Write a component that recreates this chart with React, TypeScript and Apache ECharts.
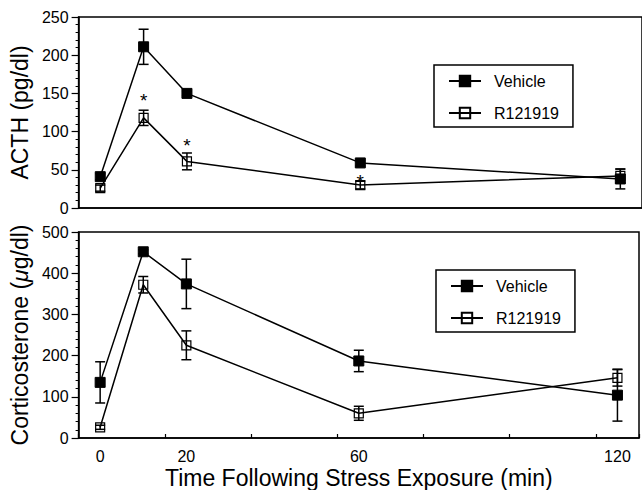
import React, { useEffect, useRef } from 'react';
import * as echarts from 'echarts';

const TIMES = [0, 10, 20, 60, 120];
const X_TICK_LABELS = [0, 20, 60, 120];
const SERIES_NAMES = ['Vehicle', 'R121919'];

const ACTH_VEHICLE = [41, 211, 150, 59, 38];
const ACTH_VEHICLE_SEM = [4, 23, 3, 4, 13];
const ACTH_R = [26, 118, 61, 30, 42];
const ACTH_R_SEM = [4, 10, 11, 5, 9];
const ACTH_SIGNIFICANT = [false, true, true, true, false];

const CORT_VEHICLE = [135, 452, 374, 187, 104];
const CORT_VEHICLE_SEM = [50, 5, 60, 26, 63];
const CORT_R = [26, 372, 225, 60, 146];
const CORT_R_SEM = [5, 20, 35, 17, 20];

const FONT = '"Liberation Sans", Arial, Helvetica, sans-serif';

function errorData(values: number[], sems: number[]) {
  return TIMES.map((t, i) => [t, values[i] - sems[i], values[i] + sems[i]]);
}

function errorSeries(values: number[], sems: number[], gridIdx: number, xIdx: number) {
  return {
    type: 'custom',
    xAxisIndex: xIdx,
    yAxisIndex: gridIdx,
    z: 2,
    silent: true,
    encode: { x: 0, y: [1, 2] },
    data: errorData(values, sems),
    renderItem: (params: any, api: any) => {
      const x = api.value(0);
      const lo = api.coord([x, api.value(1)]);
      const hi = api.coord([x, api.value(2)]);
      const w = 5;
      const style = { stroke: '#000', lineWidth: 1.5, fill: 'none' };
      return {
        type: 'group',
        children: [
          { type: 'line', shape: { x1: lo[0], y1: lo[1], x2: hi[0], y2: hi[1] }, style },
          { type: 'line', shape: { x1: lo[0] - w, y1: lo[1], x2: lo[0] + w, y2: lo[1] }, style },
          { type: 'line', shape: { x1: hi[0] - w, y1: hi[1], x2: hi[0] + w, y2: hi[1] }, style },
        ],
      };
    },
  };
}

function lineSeries(name: string, values: number[], filled: boolean, gridIdx: number, xIdx: number, stars?: boolean[]) {
  const starOffsets = [0, -17, -16, -4, 0];
  return {
    type: 'line',
    name,
    xAxisIndex: xIdx,
    yAxisIndex: gridIdx,
    z: 3,
    symbol: 'rect',
    symbolSize: filled ? 10 : 9,
    showAllSymbol: true,
    lineStyle: { color: '#000', width: 1.5 },
    itemStyle: filled
      ? { color: '#000', borderColor: '#000', borderWidth: 1 }
      : { color: 'rgba(255,255,255,0)', borderColor: '#000', borderWidth: 1.2 },
    data: TIMES.map((t, i) => {
      const item: any = { value: [t, values[i]] };
      if (stars && stars[i]) {
        item.label = {
          show: true,
          formatter: '*',
          position: 'inside',
          offset: [0, starOffsets[i]],
          fontSize: 19,
          color: '#000',
          fontFamily: FONT,
        };
      }
      return item;
    }),
  };
}

function yAxis(gridIndex: number, max: number, interval: number, name: string, extra: any = {}) {
  return {
    type: 'value',
    gridIndex,
    min: 0,
    max,
    interval,
    name,
    nameLocation: 'middle',
    nameGap: 43,
    nameTextStyle: { fontSize: 23, color: '#000', fontFamily: FONT, ...(extra.nameTextStyle || {}) },
    axisLine: { show: true, onZero: false, lineStyle: { color: '#000', width: 1.5 } },
    axisTick: { show: true, length: 7, lineStyle: { color: '#000', width: 1.2 } },
    minorTick: { show: true, splitNumber: 5, length: 3, lineStyle: { color: '#000', width: 1 } },
    axisLabel: { fontSize: 16, color: '#000', margin: 10, fontFamily: FONT },
    splitLine: { show: false },
    minorSplitLine: { show: false },
  };
}

function legend(left: number, top: number) {
  return {
    data: SERIES_NAMES,
    orient: 'vertical',
    left,
    top,
    selectedMode: false,
    borderColor: '#000',
    borderWidth: 1.5,
    padding: [8, 14, 6, 14],
    itemGap: 16,
    itemWidth: 32,
    itemHeight: 13,
    textStyle: { fontSize: 16, color: '#000', fontFamily: FONT, padding: [0, 0, 0, 8] },
  };
}

export default function App() {
  const ref = useRef<HTMLDivElement>(null);

  useEffect(() => {
    if (!ref.current) return;
    const chart = echarts.init(ref.current, null, { renderer: 'svg' });
    const option: any = {
      animation: false,
      backgroundColor: '#fff',
      textStyle: { fontFamily: FONT },
      grid: [
        { left: 75, top: 17, width: 568, height: 191, show: true, borderColor: '#000', borderWidth: 1.5, backgroundColor: 'transparent' },
        { left: 75, top: 232, width: 568, height: 210, show: true, borderColor: '#000', borderWidth: 1.5, backgroundColor: 'transparent' },
      ],
      xAxis: [
        {
          type: 'value', gridIndex: 0, min: -5, max: 125, interval: 20,
          axisLine: { show: true, onZero: false, lineStyle: { color: '#000', width: 1.5 } },
          axisTick: { show: false }, axisLabel: { show: false }, splitLine: { show: false },
        },
        {
          type: 'value', gridIndex: 1, min: -5, max: 125, interval: 20, position: 'bottom',
          axisLine: { show: true, onZero: false, lineStyle: { color: '#000', width: 1.5 } },
          axisTick: { show: true, inside: true, length: 4, lineStyle: { color: '#000', width: 1.2 } },
          axisLabel: { show: false }, splitLine: { show: false },
        },
        {
          type: 'value', gridIndex: 1, min: -5, max: 125, interval: 5, position: 'bottom',
          axisLine: { show: false, onZero: false }, axisTick: { show: false }, splitLine: { show: false },
          axisLabel: {
            show: true, fontSize: 16, color: '#000', margin: 10, fontFamily: FONT,
            formatter: (v: number) => (X_TICK_LABELS.includes(v) ? String(v) : ''),
          },
          name: 'Time Following Stress Exposure (min)',
          nameLocation: 'middle',
          nameGap: 28,
          nameTextStyle: { fontSize: 23, color: '#000', fontFamily: FONT },
        },
      ],
      yAxis: [
        yAxis(0, 250, 50, 'ACTH (pg/dl)'),
        yAxis(1, 500, 100, 'Corticosterone ({it|μ}g/dl)', {
          nameTextStyle: { rich: { it: { fontStyle: 'italic', fontSize: 23, color: '#000', fontFamily: FONT } } },
        }),
      ],
      legend: [legend(434, 65), legend(436, 270)],
      series: [
        errorSeries(ACTH_VEHICLE, ACTH_VEHICLE_SEM, 0, 0),
        errorSeries(ACTH_R, ACTH_R_SEM, 0, 0),
        lineSeries(SERIES_NAMES[0], ACTH_VEHICLE, true, 0, 0),
        lineSeries(SERIES_NAMES[1], ACTH_R, false, 0, 0, ACTH_SIGNIFICANT),
        errorSeries(CORT_VEHICLE, CORT_VEHICLE_SEM, 1, 1),
        errorSeries(CORT_R, CORT_R_SEM, 1, 1),
        lineSeries(SERIES_NAMES[0], CORT_VEHICLE, true, 1, 1),
        lineSeries(SERIES_NAMES[1], CORT_R, false, 1, 1),
      ],
    };
    chart.setOption(option);
    return () => chart.dispose();
  }, []);

  return (
    <div
      ref={ref}
      style={{ position: 'fixed', left: 0, top: 0, width: 642, height: 490, background: '#fff' }}
    />
  );
}
